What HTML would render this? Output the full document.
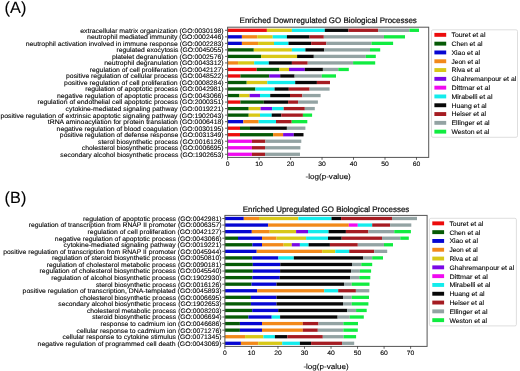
<!DOCTYPE html>
<html><head><meta charset="utf-8"><style>
html,body{margin:0;padding:0;background:#fff;}
svg{display:block;filter:blur(0.3px);}
text{font-family:"Liberation Sans",sans-serif;text-rendering:geometricPrecision;stroke:currentColor;stroke-width:0.1px;}
</style></head><body>
<svg width="520" height="371" viewBox="0 0 520 371">
<rect width="520" height="371" fill="#fff"/>
<rect x="227.60" y="28.65" width="39.30" height="3.30" fill="#ec0c0c"/>
<rect x="266.90" y="28.65" width="25.00" height="3.30" fill="#d8c818"/>
<rect x="291.90" y="28.65" width="32.90" height="3.30" fill="#12ecec"/>
<rect x="324.80" y="28.65" width="23.70" height="3.30" fill="#080808"/>
<rect x="348.50" y="28.65" width="29.60" height="3.30" fill="#a51c22"/>
<rect x="378.10" y="28.65" width="31.30" height="3.30" fill="#93a3a3"/>
<rect x="409.40" y="28.65" width="9.60" height="3.30" fill="#10ec40"/>
<line x1="225.00" y1="30.30" x2="227.60" y2="30.30" stroke="#222" stroke-width="0.7"/>
<text x="223.60" y="32.70" font-size="6.573" text-anchor="end" textLength="143.33" lengthAdjust="spacingAndGlyphs" fill="#000">extracellular matrix organization (GO:0030198)</text>
<rect x="227.60" y="35.18" width="14.30" height="3.30" fill="#0606d2"/>
<rect x="241.90" y="35.18" width="15.40" height="3.30" fill="#f2891a"/>
<rect x="257.30" y="35.18" width="15.40" height="3.30" fill="#d8c818"/>
<rect x="272.70" y="35.18" width="14.20" height="3.30" fill="#12ecec"/>
<rect x="286.90" y="35.18" width="22.70" height="3.30" fill="#080808"/>
<rect x="309.60" y="35.18" width="14.20" height="3.30" fill="#a51c22"/>
<rect x="323.80" y="35.18" width="60.20" height="3.30" fill="#93a3a3"/>
<rect x="384.00" y="35.18" width="21.00" height="3.30" fill="#10ec40"/>
<line x1="225.00" y1="36.83" x2="227.60" y2="36.83" stroke="#222" stroke-width="0.7"/>
<text x="223.60" y="39.23" font-size="6.573" text-anchor="end" textLength="136.54" lengthAdjust="spacingAndGlyphs" fill="#000">neutrophil mediated immunity (GO:0002446)</text>
<rect x="227.60" y="41.70" width="14.30" height="3.30" fill="#0606d2"/>
<rect x="241.90" y="41.70" width="16.20" height="3.30" fill="#f2891a"/>
<rect x="258.10" y="41.70" width="15.90" height="3.30" fill="#d8c818"/>
<rect x="274.00" y="41.70" width="14.50" height="3.30" fill="#12ecec"/>
<rect x="288.50" y="41.70" width="22.70" height="3.30" fill="#080808"/>
<rect x="311.20" y="41.70" width="15.10" height="3.30" fill="#a51c22"/>
<rect x="326.30" y="41.70" width="45.20" height="3.30" fill="#93a3a3"/>
<rect x="371.50" y="41.70" width="21.60" height="3.30" fill="#10ec40"/>
<line x1="225.00" y1="43.35" x2="227.60" y2="43.35" stroke="#222" stroke-width="0.7"/>
<text x="223.60" y="45.75" font-size="6.573" text-anchor="end" textLength="197.89" lengthAdjust="spacingAndGlyphs" fill="#000">neutrophil activation involved in immune response (GO:0002283)</text>
<rect x="227.60" y="48.23" width="26.20" height="3.30" fill="#065a06"/>
<rect x="253.80" y="48.23" width="38.10" height="3.30" fill="#d8c818"/>
<rect x="291.90" y="48.23" width="13.50" height="3.30" fill="#12ecec"/>
<rect x="305.40" y="48.23" width="18.80" height="3.30" fill="#080808"/>
<rect x="324.20" y="48.23" width="45.80" height="3.30" fill="#93a3a3"/>
<rect x="370.00" y="48.23" width="10.20" height="3.30" fill="#10ec40"/>
<line x1="225.00" y1="49.88" x2="227.60" y2="49.88" stroke="#222" stroke-width="0.7"/>
<text x="223.60" y="52.28" font-size="6.573" text-anchor="end" textLength="107.11" lengthAdjust="spacingAndGlyphs" fill="#000">regulated exocytosis (GO:0045055)</text>
<rect x="227.60" y="54.75" width="33.60" height="3.30" fill="#065a06"/>
<rect x="261.20" y="54.75" width="35.90" height="3.30" fill="#d8c818"/>
<rect x="297.10" y="54.75" width="16.70" height="3.30" fill="#080808"/>
<rect x="313.80" y="54.75" width="52.00" height="3.30" fill="#93a3a3"/>
<rect x="365.80" y="54.75" width="10.00" height="3.30" fill="#10ec40"/>
<line x1="225.00" y1="56.40" x2="227.60" y2="56.40" stroke="#222" stroke-width="0.7"/>
<text x="223.60" y="58.80" font-size="6.573" text-anchor="end" textLength="111.68" lengthAdjust="spacingAndGlyphs" fill="#000">platelet degranulation (GO:0002576)</text>
<rect x="227.60" y="61.28" width="10.50" height="3.30" fill="#f2891a"/>
<rect x="238.10" y="61.28" width="16.10" height="3.30" fill="#d8c818"/>
<rect x="254.20" y="61.28" width="14.60" height="3.30" fill="#12ecec"/>
<rect x="268.80" y="61.28" width="23.10" height="3.30" fill="#080808"/>
<rect x="291.90" y="61.28" width="15.80" height="3.30" fill="#a51c22"/>
<rect x="307.70" y="61.28" width="45.40" height="3.30" fill="#93a3a3"/>
<rect x="353.10" y="61.28" width="22.10" height="3.30" fill="#10ec40"/>
<line x1="225.00" y1="62.93" x2="227.60" y2="62.93" stroke="#222" stroke-width="0.7"/>
<text x="223.60" y="65.33" font-size="6.573" text-anchor="end" textLength="119.40" lengthAdjust="spacingAndGlyphs" fill="#000">neutrophil degranulation (GO:0043312)</text>
<rect x="227.60" y="67.81" width="29.10" height="3.30" fill="#ec0c0c"/>
<rect x="256.70" y="67.81" width="22.70" height="3.30" fill="#065a06"/>
<rect x="279.40" y="67.81" width="9.60" height="3.30" fill="#d8c818"/>
<rect x="289.00" y="67.81" width="15.80" height="3.30" fill="#7a08e6"/>
<rect x="304.80" y="67.81" width="18.10" height="3.30" fill="#080808"/>
<rect x="322.90" y="67.81" width="15.40" height="3.30" fill="#93a3a3"/>
<rect x="338.30" y="67.81" width="10.50" height="3.30" fill="#10ec40"/>
<line x1="225.00" y1="69.46" x2="227.60" y2="69.46" stroke="#222" stroke-width="0.7"/>
<text x="223.60" y="71.86" font-size="6.573" text-anchor="end" textLength="133.94" lengthAdjust="spacingAndGlyphs" fill="#000">regulation of cell proliferation (GO:0042127)</text>
<rect x="227.60" y="74.33" width="12.80" height="3.30" fill="#ec0c0c"/>
<rect x="240.40" y="74.33" width="28.80" height="3.30" fill="#065a06"/>
<rect x="269.20" y="74.33" width="11.00" height="3.30" fill="#7a08e6"/>
<rect x="280.20" y="74.33" width="14.40" height="3.30" fill="#080808"/>
<rect x="294.60" y="74.33" width="27.20" height="3.30" fill="#93a3a3"/>
<rect x="321.80" y="74.33" width="14.20" height="3.30" fill="#10ec40"/>
<line x1="225.00" y1="75.98" x2="227.60" y2="75.98" stroke="#222" stroke-width="0.7"/>
<text x="223.60" y="78.38" font-size="6.573" text-anchor="end" textLength="157.54" lengthAdjust="spacingAndGlyphs" fill="#000">positive regulation of cellular process (GO:0048522)</text>
<rect x="227.60" y="80.86" width="19.10" height="3.30" fill="#065a06"/>
<rect x="246.70" y="80.86" width="20.60" height="3.30" fill="#d8c818"/>
<rect x="267.30" y="80.86" width="27.90" height="3.30" fill="#12ecec"/>
<rect x="295.20" y="80.86" width="21.70" height="3.30" fill="#080808"/>
<rect x="316.90" y="80.86" width="13.10" height="3.30" fill="#a51c22"/>
<line x1="225.00" y1="82.51" x2="227.60" y2="82.51" stroke="#222" stroke-width="0.7"/>
<text x="223.60" y="84.91" font-size="6.573" text-anchor="end" textLength="159.46" lengthAdjust="spacingAndGlyphs" fill="#000">positive regulation of cell proliferation (GO:0008284)</text>
<rect x="227.60" y="87.38" width="27.80" height="3.30" fill="#065a06"/>
<rect x="255.40" y="87.38" width="19.20" height="3.30" fill="#12ecec"/>
<rect x="274.60" y="87.38" width="14.20" height="3.30" fill="#080808"/>
<rect x="288.80" y="87.38" width="20.80" height="3.30" fill="#a51c22"/>
<rect x="309.60" y="87.38" width="20.00" height="3.30" fill="#93a3a3"/>
<line x1="225.00" y1="89.03" x2="227.60" y2="89.03" stroke="#222" stroke-width="0.7"/>
<text x="223.60" y="91.43" font-size="6.573" text-anchor="end" textLength="138.40" lengthAdjust="spacingAndGlyphs" fill="#000">regulation of apoptotic process (GO:0042981)</text>
<rect x="227.60" y="93.91" width="11.80" height="3.30" fill="#065a06"/>
<rect x="239.40" y="93.91" width="10.20" height="3.30" fill="#d8c818"/>
<rect x="249.60" y="93.91" width="10.40" height="3.30" fill="#7a08e6"/>
<rect x="260.00" y="93.91" width="10.20" height="3.30" fill="#12ecec"/>
<rect x="270.20" y="93.91" width="19.80" height="3.30" fill="#080808"/>
<rect x="290.00" y="93.91" width="12.30" height="3.30" fill="#a51c22"/>
<rect x="302.30" y="93.91" width="18.30" height="3.30" fill="#93a3a3"/>
<line x1="225.00" y1="95.56" x2="227.60" y2="95.56" stroke="#222" stroke-width="0.7"/>
<text x="223.60" y="97.96" font-size="6.573" text-anchor="end" textLength="166.64" lengthAdjust="spacingAndGlyphs" fill="#000">negative regulation of apoptotic process (GO:0043066)</text>
<rect x="227.60" y="100.44" width="12.80" height="3.30" fill="#ec0c0c"/>
<rect x="240.40" y="100.44" width="23.40" height="3.30" fill="#065a06"/>
<rect x="263.80" y="100.44" width="24.30" height="3.30" fill="#080808"/>
<rect x="288.10" y="100.44" width="10.00" height="3.30" fill="#a51c22"/>
<rect x="298.10" y="100.44" width="19.80" height="3.30" fill="#93a3a3"/>
<line x1="225.00" y1="102.09" x2="227.60" y2="102.09" stroke="#222" stroke-width="0.7"/>
<text x="223.60" y="104.49" font-size="6.573" text-anchor="end" textLength="186.20" lengthAdjust="spacingAndGlyphs" fill="#000">regulation of endothelial cell apoptotic process (GO:2000351)</text>
<rect x="227.60" y="106.96" width="21.10" height="3.30" fill="#065a06"/>
<rect x="248.70" y="106.96" width="11.90" height="3.30" fill="#d8c818"/>
<rect x="260.60" y="106.96" width="11.50" height="3.30" fill="#7a08e6"/>
<rect x="272.10" y="106.96" width="11.60" height="3.30" fill="#12ecec"/>
<rect x="283.70" y="106.96" width="21.10" height="3.30" fill="#a51c22"/>
<rect x="304.80" y="106.96" width="10.00" height="3.30" fill="#93a3a3"/>
<line x1="225.00" y1="108.61" x2="227.60" y2="108.61" stroke="#222" stroke-width="0.7"/>
<text x="223.60" y="111.01" font-size="6.573" text-anchor="end" textLength="157.96" lengthAdjust="spacingAndGlyphs" fill="#000">cytokine-mediated signaling pathway (GO:0019221)</text>
<rect x="227.60" y="113.49" width="21.10" height="3.30" fill="#065a06"/>
<rect x="248.70" y="113.49" width="11.30" height="3.30" fill="#d8c818"/>
<rect x="260.00" y="113.49" width="11.70" height="3.30" fill="#12ecec"/>
<rect x="271.70" y="113.49" width="9.60" height="3.30" fill="#080808"/>
<rect x="281.30" y="113.49" width="21.60" height="3.30" fill="#a51c22"/>
<rect x="302.90" y="113.49" width="9.20" height="3.30" fill="#10ec40"/>
<line x1="225.00" y1="115.14" x2="227.60" y2="115.14" stroke="#222" stroke-width="0.7"/>
<text x="223.60" y="117.54" font-size="6.573" text-anchor="end" textLength="223.20" lengthAdjust="spacingAndGlyphs" fill="#000">positive regulation of extrinsic apoptotic signaling pathway (GO:1902043)</text>
<rect x="227.60" y="120.01" width="15.70" height="3.30" fill="#0606d2"/>
<rect x="243.30" y="120.01" width="15.40" height="3.30" fill="#f2891a"/>
<rect x="258.70" y="120.01" width="17.30" height="3.30" fill="#12ecec"/>
<rect x="276.00" y="120.01" width="15.70" height="3.30" fill="#a51c22"/>
<rect x="291.70" y="120.01" width="15.60" height="3.30" fill="#10ec40"/>
<line x1="225.00" y1="121.66" x2="227.60" y2="121.66" stroke="#222" stroke-width="0.7"/>
<text x="223.60" y="124.06" font-size="6.573" text-anchor="end" textLength="175.79" lengthAdjust="spacingAndGlyphs" fill="#000">tRNA aminoacylation for protein translation (GO:0006418)</text>
<rect x="227.60" y="126.54" width="12.40" height="3.30" fill="#ec0c0c"/>
<rect x="240.00" y="126.54" width="10.00" height="3.30" fill="#065a06"/>
<rect x="250.00" y="126.54" width="36.90" height="3.30" fill="#080808"/>
<rect x="286.90" y="126.54" width="18.50" height="3.30" fill="#93a3a3"/>
<line x1="225.00" y1="128.19" x2="227.60" y2="128.19" stroke="#222" stroke-width="0.7"/>
<text x="223.60" y="130.59" font-size="6.573" text-anchor="end" textLength="167.00" lengthAdjust="spacingAndGlyphs" fill="#000">negative regulation of blood coagulation (GO:0030195)</text>
<rect x="227.60" y="133.07" width="12.40" height="3.30" fill="#ec0c0c"/>
<rect x="240.00" y="133.07" width="33.10" height="3.30" fill="#065a06"/>
<rect x="273.10" y="133.07" width="10.00" height="3.30" fill="#f2891a"/>
<rect x="283.10" y="133.07" width="10.70" height="3.30" fill="#7a08e6"/>
<rect x="293.80" y="133.07" width="9.70" height="3.30" fill="#080808"/>
<line x1="225.00" y1="134.72" x2="227.60" y2="134.72" stroke="#222" stroke-width="0.7"/>
<text x="223.60" y="137.12" font-size="6.573" text-anchor="end" textLength="163.74" lengthAdjust="spacingAndGlyphs" fill="#000">positive regulation of defense response (GO:0031349)</text>
<rect x="227.60" y="139.59" width="24.30" height="3.30" fill="#f00af0"/>
<rect x="251.90" y="139.59" width="13.50" height="3.30" fill="#a51c22"/>
<rect x="265.40" y="139.59" width="35.90" height="3.30" fill="#93a3a3"/>
<line x1="225.00" y1="141.24" x2="227.60" y2="141.24" stroke="#222" stroke-width="0.7"/>
<text x="223.60" y="143.64" font-size="6.573" text-anchor="end" textLength="125.52" lengthAdjust="spacingAndGlyphs" fill="#000">sterol biosynthetic process (GO:0016126)</text>
<rect x="227.60" y="146.12" width="24.30" height="3.30" fill="#f00af0"/>
<rect x="251.90" y="146.12" width="13.10" height="3.30" fill="#a51c22"/>
<rect x="265.00" y="146.12" width="35.40" height="3.30" fill="#93a3a3"/>
<line x1="225.00" y1="147.77" x2="227.60" y2="147.77" stroke="#222" stroke-width="0.7"/>
<text x="223.60" y="150.17" font-size="6.573" text-anchor="end" textLength="141.71" lengthAdjust="spacingAndGlyphs" fill="#000">cholesterol biosynthetic process (GO:0006695)</text>
<rect x="227.60" y="152.64" width="24.30" height="3.30" fill="#f00af0"/>
<rect x="251.90" y="152.64" width="13.10" height="3.30" fill="#a51c22"/>
<rect x="265.00" y="152.64" width="35.00" height="3.30" fill="#93a3a3"/>
<line x1="225.00" y1="154.29" x2="227.60" y2="154.29" stroke="#222" stroke-width="0.7"/>
<text x="223.60" y="156.69" font-size="6.573" text-anchor="end" textLength="163.26" lengthAdjust="spacingAndGlyphs" fill="#000">secondary alcohol biosynthetic process (GO:1902653)</text>
<rect x="227.60" y="27.20" width="201.10" height="130.20" fill="none" stroke="#555" stroke-width="1.0"/>
<line x1="227.60" y1="157.40" x2="227.60" y2="159.80" stroke="#222" stroke-width="0.7"/>
<text x="227.60" y="166.00" font-size="6.339" text-anchor="middle" textLength="3.80" lengthAdjust="spacingAndGlyphs" fill="#000">0</text>
<line x1="259.08" y1="157.40" x2="259.08" y2="159.80" stroke="#222" stroke-width="0.7"/>
<text x="259.08" y="166.00" font-size="6.339" text-anchor="middle" textLength="7.61" lengthAdjust="spacingAndGlyphs" fill="#000">10</text>
<line x1="290.56" y1="157.40" x2="290.56" y2="159.80" stroke="#222" stroke-width="0.7"/>
<text x="290.56" y="166.00" font-size="6.339" text-anchor="middle" textLength="7.61" lengthAdjust="spacingAndGlyphs" fill="#000">20</text>
<line x1="322.04" y1="157.40" x2="322.04" y2="159.80" stroke="#222" stroke-width="0.7"/>
<text x="322.04" y="166.00" font-size="6.339" text-anchor="middle" textLength="7.61" lengthAdjust="spacingAndGlyphs" fill="#000">30</text>
<line x1="353.52" y1="157.40" x2="353.52" y2="159.80" stroke="#222" stroke-width="0.7"/>
<text x="353.52" y="166.00" font-size="6.339" text-anchor="middle" textLength="7.61" lengthAdjust="spacingAndGlyphs" fill="#000">40</text>
<line x1="385.00" y1="157.40" x2="385.00" y2="159.80" stroke="#222" stroke-width="0.7"/>
<text x="385.00" y="166.00" font-size="6.339" text-anchor="middle" textLength="7.61" lengthAdjust="spacingAndGlyphs" fill="#000">50</text>
<line x1="416.48" y1="157.40" x2="416.48" y2="159.80" stroke="#222" stroke-width="0.7"/>
<text x="416.48" y="166.00" font-size="6.339" text-anchor="middle" textLength="7.61" lengthAdjust="spacingAndGlyphs" fill="#000">60</text>
<text x="328.20" y="23.30" font-size="8.014" text-anchor="middle" textLength="177.18" lengthAdjust="spacingAndGlyphs" fill="#1a1a1a" style="stroke-width:0.22px">Enriched Downregulated GO Biological Processes</text>
<text x="328.20" y="179.40" font-size="7.526" text-anchor="middle" textLength="45.20" lengthAdjust="spacingAndGlyphs" fill="#000">-log(p-value)</text>
<text x="4.6" y="12.6" font-size="16.3" fill="#000">(A)</text>
<rect x="431.50" y="29.80" width="86.00" height="107.50" rx="1.5" fill="#fff" fill-opacity="0.8" stroke="#d6d6d6" stroke-width="0.8"/>
<rect x="434.40" y="32.90" width="11.8" height="3.9" fill="#ec0c0c"/>
<text x="451.50" y="37.20" font-size="6.413" text-anchor="start" textLength="33.98" lengthAdjust="spacingAndGlyphs" fill="#000">Touret et al</text>
<rect x="434.40" y="41.70" width="11.8" height="3.9" fill="#065a06"/>
<text x="451.50" y="46.00" font-size="6.413" text-anchor="start" textLength="30.94" lengthAdjust="spacingAndGlyphs" fill="#000">Chen et al</text>
<rect x="434.40" y="50.50" width="11.8" height="3.9" fill="#0606d2"/>
<text x="451.50" y="54.80" font-size="6.413" text-anchor="start" textLength="28.56" lengthAdjust="spacingAndGlyphs" fill="#000">Xiao et al</text>
<rect x="434.40" y="59.30" width="11.8" height="3.9" fill="#f2891a"/>
<text x="451.50" y="63.60" font-size="6.413" text-anchor="start" textLength="28.37" lengthAdjust="spacingAndGlyphs" fill="#000">Jeon et al</text>
<rect x="434.40" y="68.10" width="11.8" height="3.9" fill="#d8c818"/>
<text x="451.50" y="72.40" font-size="6.413" text-anchor="start" textLength="28.50" lengthAdjust="spacingAndGlyphs" fill="#000">Riva et al</text>
<rect x="434.40" y="76.90" width="11.8" height="3.9" fill="#7a08e6"/>
<text x="451.50" y="81.20" font-size="6.413" text-anchor="start" textLength="64.77" lengthAdjust="spacingAndGlyphs" fill="#000">Ghahremanpour et al</text>
<rect x="434.40" y="85.70" width="11.8" height="3.9" fill="#f00af0"/>
<text x="451.50" y="90.00" font-size="6.413" text-anchor="start" textLength="38.50" lengthAdjust="spacingAndGlyphs" fill="#000">Dittmar et al</text>
<rect x="434.40" y="94.50" width="11.8" height="3.9" fill="#12ecec"/>
<text x="451.50" y="98.80" font-size="6.413" text-anchor="start" textLength="41.03" lengthAdjust="spacingAndGlyphs" fill="#000">Mirabelli et al</text>
<rect x="434.40" y="103.30" width="11.8" height="3.9" fill="#080808"/>
<text x="451.50" y="107.60" font-size="6.413" text-anchor="start" textLength="35.09" lengthAdjust="spacingAndGlyphs" fill="#000">Huang et al</text>
<rect x="434.40" y="112.10" width="11.8" height="3.9" fill="#a51c22"/>
<text x="451.50" y="116.40" font-size="6.413" text-anchor="start" textLength="34.64" lengthAdjust="spacingAndGlyphs" fill="#000">Heiser et al</text>
<rect x="434.40" y="120.90" width="11.8" height="3.9" fill="#93a3a3"/>
<text x="451.50" y="125.20" font-size="6.413" text-anchor="start" textLength="38.08" lengthAdjust="spacingAndGlyphs" fill="#000">Ellinger et al</text>
<rect x="434.40" y="129.70" width="11.8" height="3.9" fill="#10ec40"/>
<text x="451.50" y="134.00" font-size="6.413" text-anchor="start" textLength="37.74" lengthAdjust="spacingAndGlyphs" fill="#000">Weston et al</text>
<rect x="224.90" y="216.85" width="18.90" height="3.30" fill="#0606d2"/>
<rect x="243.80" y="216.85" width="15.20" height="3.30" fill="#f2891a"/>
<rect x="259.00" y="216.85" width="39.40" height="3.30" fill="#d8c818"/>
<rect x="298.40" y="216.85" width="33.10" height="3.30" fill="#12ecec"/>
<rect x="331.50" y="216.85" width="9.60" height="3.30" fill="#080808"/>
<rect x="341.10" y="216.85" width="50.90" height="3.30" fill="#a51c22"/>
<rect x="392.00" y="216.85" width="25.00" height="3.30" fill="#93a3a3"/>
<line x1="222.30" y1="218.50" x2="224.90" y2="218.50" stroke="#222" stroke-width="0.7"/>
<text x="221.50" y="220.90" font-size="6.573" text-anchor="end" textLength="138.40" lengthAdjust="spacingAndGlyphs" fill="#000">regulation of apoptotic process (GO:0042981)</text>
<rect x="224.90" y="223.42" width="43.30" height="3.30" fill="#0606d2"/>
<rect x="268.20" y="223.42" width="80.60" height="3.30" fill="#f2891a"/>
<rect x="348.80" y="223.42" width="9.00" height="3.30" fill="#f00af0"/>
<rect x="357.80" y="223.42" width="14.40" height="3.30" fill="#12ecec"/>
<rect x="372.20" y="223.42" width="17.90" height="3.30" fill="#a51c22"/>
<rect x="390.10" y="223.42" width="21.20" height="3.30" fill="#93a3a3"/>
<line x1="222.30" y1="225.07" x2="224.90" y2="225.07" stroke="#222" stroke-width="0.7"/>
<text x="221.50" y="227.47" font-size="6.573" text-anchor="end" textLength="192.82" lengthAdjust="spacingAndGlyphs" fill="#000">regulation of transcription from RNAP II promoter (GO:0006357)</text>
<rect x="224.90" y="229.99" width="26.90" height="3.30" fill="#0606d2"/>
<rect x="251.80" y="229.99" width="17.90" height="3.30" fill="#f2891a"/>
<rect x="269.70" y="229.99" width="26.40" height="3.30" fill="#d8c818"/>
<rect x="296.10" y="229.99" width="11.90" height="3.30" fill="#7a08e6"/>
<rect x="308.00" y="229.99" width="20.60" height="3.30" fill="#12ecec"/>
<rect x="328.60" y="229.99" width="17.30" height="3.30" fill="#080808"/>
<rect x="345.90" y="229.99" width="22.50" height="3.30" fill="#a51c22"/>
<rect x="368.40" y="229.99" width="25.90" height="3.30" fill="#93a3a3"/>
<rect x="394.30" y="229.99" width="16.60" height="3.30" fill="#10ec40"/>
<line x1="222.30" y1="231.64" x2="224.90" y2="231.64" stroke="#222" stroke-width="0.7"/>
<text x="221.50" y="234.04" font-size="6.573" text-anchor="end" textLength="133.94" lengthAdjust="spacingAndGlyphs" fill="#000">regulation of cell proliferation (GO:0042127)</text>
<rect x="224.90" y="236.55" width="13.10" height="3.30" fill="#065a06"/>
<rect x="238.00" y="236.55" width="24.00" height="3.30" fill="#0606d2"/>
<rect x="262.00" y="236.55" width="14.50" height="3.30" fill="#f2891a"/>
<rect x="276.50" y="236.55" width="29.60" height="3.30" fill="#d8c818"/>
<rect x="306.10" y="236.55" width="21.90" height="3.30" fill="#12ecec"/>
<rect x="328.00" y="236.55" width="13.70" height="3.30" fill="#080808"/>
<rect x="341.70" y="236.55" width="40.30" height="3.30" fill="#a51c22"/>
<rect x="382.00" y="236.55" width="18.30" height="3.30" fill="#93a3a3"/>
<rect x="400.30" y="236.55" width="8.50" height="3.30" fill="#10ec40"/>
<line x1="222.30" y1="238.20" x2="224.90" y2="238.20" stroke="#222" stroke-width="0.7"/>
<text x="221.50" y="240.60" font-size="6.573" text-anchor="end" textLength="166.64" lengthAdjust="spacingAndGlyphs" fill="#000">negative regulation of apoptotic process (GO:0043066)</text>
<rect x="224.90" y="243.12" width="27.50" height="3.30" fill="#065a06"/>
<rect x="252.40" y="243.12" width="9.60" height="3.30" fill="#0606d2"/>
<rect x="262.00" y="243.12" width="21.60" height="3.30" fill="#f2891a"/>
<rect x="283.60" y="243.12" width="8.20" height="3.30" fill="#d8c818"/>
<rect x="291.80" y="243.12" width="8.10" height="3.30" fill="#7a08e6"/>
<rect x="299.90" y="243.12" width="8.70" height="3.30" fill="#12ecec"/>
<rect x="308.60" y="243.12" width="21.30" height="3.30" fill="#080808"/>
<rect x="329.90" y="243.12" width="27.90" height="3.30" fill="#a51c22"/>
<rect x="357.80" y="243.12" width="26.20" height="3.30" fill="#93a3a3"/>
<rect x="384.00" y="243.12" width="9.00" height="3.30" fill="#10ec40"/>
<line x1="222.30" y1="244.77" x2="224.90" y2="244.77" stroke="#222" stroke-width="0.7"/>
<text x="221.50" y="247.17" font-size="6.573" text-anchor="end" textLength="157.96" lengthAdjust="spacingAndGlyphs" fill="#000">cytokine-mediated signaling pathway (GO:0019221)</text>
<rect x="224.90" y="249.69" width="31.80" height="3.30" fill="#0606d2"/>
<rect x="256.70" y="249.69" width="65.50" height="3.30" fill="#f2891a"/>
<rect x="322.20" y="249.69" width="13.10" height="3.30" fill="#d8c818"/>
<rect x="335.30" y="249.69" width="13.90" height="3.30" fill="#12ecec"/>
<rect x="349.20" y="249.69" width="25.00" height="3.30" fill="#a51c22"/>
<rect x="374.20" y="249.69" width="13.00" height="3.30" fill="#93a3a3"/>
<line x1="222.30" y1="251.34" x2="224.90" y2="251.34" stroke="#222" stroke-width="0.7"/>
<text x="221.50" y="253.74" font-size="6.573" text-anchor="end" textLength="218.35" lengthAdjust="spacingAndGlyphs" fill="#000">positive regulation of transcription from RNAP II promoter (GO:0045944)</text>
<rect x="224.90" y="256.26" width="27.30" height="3.30" fill="#065a06"/>
<rect x="252.20" y="256.26" width="26.20" height="3.30" fill="#0606d2"/>
<rect x="278.40" y="256.26" width="15.40" height="3.30" fill="#12ecec"/>
<rect x="293.80" y="256.26" width="69.40" height="3.30" fill="#080808"/>
<rect x="363.20" y="256.26" width="9.00" height="3.30" fill="#93a3a3"/>
<rect x="372.20" y="256.26" width="10.80" height="3.30" fill="#10ec40"/>
<line x1="222.30" y1="257.91" x2="224.90" y2="257.91" stroke="#222" stroke-width="0.7"/>
<text x="221.50" y="260.31" font-size="6.573" text-anchor="end" textLength="169.55" lengthAdjust="spacingAndGlyphs" fill="#000">regulation of steroid biosynthetic process (GO:0050810)</text>
<rect x="224.90" y="262.83" width="27.90" height="3.30" fill="#065a06"/>
<rect x="252.80" y="262.83" width="27.50" height="3.30" fill="#0606d2"/>
<rect x="280.30" y="262.83" width="71.70" height="3.30" fill="#080808"/>
<rect x="352.00" y="262.83" width="9.30" height="3.30" fill="#93a3a3"/>
<rect x="361.30" y="262.83" width="10.90" height="3.30" fill="#10ec40"/>
<line x1="222.30" y1="264.48" x2="224.90" y2="264.48" stroke="#222" stroke-width="0.7"/>
<text x="221.50" y="266.88" font-size="6.573" text-anchor="end" textLength="174.77" lengthAdjust="spacingAndGlyphs" fill="#000">regulation of cholesterol metabolic process (GO:0090181)</text>
<rect x="224.90" y="269.39" width="27.90" height="3.30" fill="#065a06"/>
<rect x="252.80" y="269.39" width="27.30" height="3.30" fill="#0606d2"/>
<rect x="280.10" y="269.39" width="71.00" height="3.30" fill="#080808"/>
<rect x="351.10" y="269.39" width="8.80" height="3.30" fill="#93a3a3"/>
<rect x="359.90" y="269.39" width="11.20" height="3.30" fill="#10ec40"/>
<line x1="222.30" y1="271.04" x2="224.90" y2="271.04" stroke="#222" stroke-width="0.7"/>
<text x="221.50" y="273.44" font-size="6.573" text-anchor="end" textLength="181.91" lengthAdjust="spacingAndGlyphs" fill="#000">regulation of cholesterol biosynthetic process (GO:0045540)</text>
<rect x="224.90" y="275.96" width="27.50" height="3.30" fill="#065a06"/>
<rect x="252.40" y="275.96" width="27.30" height="3.30" fill="#0606d2"/>
<rect x="279.70" y="275.96" width="70.40" height="3.30" fill="#080808"/>
<rect x="350.10" y="275.96" width="9.20" height="3.30" fill="#93a3a3"/>
<rect x="359.30" y="275.96" width="11.00" height="3.30" fill="#10ec40"/>
<line x1="222.30" y1="277.61" x2="224.90" y2="277.61" stroke="#222" stroke-width="0.7"/>
<text x="221.50" y="280.01" font-size="6.573" text-anchor="end" textLength="170.35" lengthAdjust="spacingAndGlyphs" fill="#000">regulation of alcohol biosynthetic process (GO:1902930)</text>
<rect x="224.90" y="282.53" width="26.60" height="3.30" fill="#065a06"/>
<rect x="251.50" y="282.53" width="25.00" height="3.30" fill="#0606d2"/>
<rect x="276.50" y="282.53" width="67.50" height="3.30" fill="#080808"/>
<rect x="344.00" y="282.53" width="7.70" height="3.30" fill="#93a3a3"/>
<rect x="351.70" y="282.53" width="17.80" height="3.30" fill="#10ec40"/>
<line x1="222.30" y1="284.18" x2="224.90" y2="284.18" stroke="#222" stroke-width="0.7"/>
<text x="221.50" y="286.58" font-size="6.573" text-anchor="end" textLength="125.52" lengthAdjust="spacingAndGlyphs" fill="#000">sterol biosynthetic process (GO:0016126)</text>
<rect x="224.90" y="289.10" width="32.30" height="3.30" fill="#0606d2"/>
<rect x="257.20" y="289.10" width="67.00" height="3.30" fill="#f2891a"/>
<rect x="324.20" y="289.10" width="14.00" height="3.30" fill="#12ecec"/>
<rect x="338.20" y="289.10" width="17.70" height="3.30" fill="#a51c22"/>
<rect x="355.90" y="289.10" width="13.40" height="3.30" fill="#93a3a3"/>
<line x1="222.30" y1="290.75" x2="224.90" y2="290.75" stroke="#222" stroke-width="0.7"/>
<text x="221.50" y="293.15" font-size="6.573" text-anchor="end" textLength="198.89" lengthAdjust="spacingAndGlyphs" fill="#000">positive regulation of transcription, DNA-templated (GO:0045893)</text>
<rect x="224.90" y="295.67" width="26.00" height="3.30" fill="#065a06"/>
<rect x="250.90" y="295.67" width="25.60" height="3.30" fill="#0606d2"/>
<rect x="276.50" y="295.67" width="66.50" height="3.30" fill="#080808"/>
<rect x="343.00" y="295.67" width="8.70" height="3.30" fill="#93a3a3"/>
<rect x="351.70" y="295.67" width="17.30" height="3.30" fill="#10ec40"/>
<line x1="222.30" y1="297.32" x2="224.90" y2="297.32" stroke="#222" stroke-width="0.7"/>
<text x="221.50" y="299.72" font-size="6.573" text-anchor="end" textLength="141.71" lengthAdjust="spacingAndGlyphs" fill="#000">cholesterol biosynthetic process (GO:0006695)</text>
<rect x="224.90" y="302.23" width="26.00" height="3.30" fill="#065a06"/>
<rect x="250.90" y="302.23" width="25.60" height="3.30" fill="#0606d2"/>
<rect x="276.50" y="302.23" width="66.50" height="3.30" fill="#080808"/>
<rect x="343.00" y="302.23" width="8.70" height="3.30" fill="#93a3a3"/>
<rect x="351.70" y="302.23" width="16.70" height="3.30" fill="#10ec40"/>
<line x1="222.30" y1="303.88" x2="224.90" y2="303.88" stroke="#222" stroke-width="0.7"/>
<text x="221.50" y="306.28" font-size="6.573" text-anchor="end" textLength="163.26" lengthAdjust="spacingAndGlyphs" fill="#000">secondary alcohol biosynthetic process (GO:1902653)</text>
<rect x="224.90" y="308.80" width="27.30" height="3.30" fill="#065a06"/>
<rect x="252.20" y="308.80" width="26.00" height="3.30" fill="#0606d2"/>
<rect x="278.20" y="308.80" width="69.00" height="3.30" fill="#080808"/>
<rect x="347.20" y="308.80" width="8.90" height="3.30" fill="#93a3a3"/>
<rect x="356.10" y="308.80" width="10.60" height="3.30" fill="#10ec40"/>
<line x1="222.30" y1="310.45" x2="224.90" y2="310.45" stroke="#222" stroke-width="0.7"/>
<text x="221.50" y="312.85" font-size="6.573" text-anchor="end" textLength="134.57" lengthAdjust="spacingAndGlyphs" fill="#000">cholesterol metabolic process (GO:0008203)</text>
<rect x="224.90" y="315.37" width="23.50" height="3.30" fill="#065a06"/>
<rect x="248.40" y="315.37" width="23.30" height="3.30" fill="#0606d2"/>
<rect x="271.70" y="315.37" width="8.40" height="3.30" fill="#12ecec"/>
<rect x="280.10" y="315.37" width="57.50" height="3.30" fill="#080808"/>
<rect x="337.60" y="315.37" width="12.10" height="3.30" fill="#93a3a3"/>
<rect x="349.70" y="315.37" width="14.10" height="3.30" fill="#10ec40"/>
<line x1="222.30" y1="317.02" x2="224.90" y2="317.02" stroke="#222" stroke-width="0.7"/>
<text x="221.50" y="319.42" font-size="6.573" text-anchor="end" textLength="129.34" lengthAdjust="spacingAndGlyphs" fill="#000">steroid biosynthetic process (GO:0006694)</text>
<rect x="224.90" y="321.94" width="15.00" height="3.30" fill="#065a06"/>
<rect x="239.90" y="321.94" width="22.10" height="3.30" fill="#0606d2"/>
<rect x="262.00" y="321.94" width="40.80" height="3.30" fill="#f2891a"/>
<rect x="302.80" y="321.94" width="15.70" height="3.30" fill="#a51c22"/>
<rect x="318.50" y="321.94" width="24.90" height="3.30" fill="#93a3a3"/>
<rect x="343.40" y="321.94" width="14.60" height="3.30" fill="#10ec40"/>
<line x1="222.30" y1="323.59" x2="224.90" y2="323.59" stroke="#222" stroke-width="0.7"/>
<text x="221.50" y="325.99" font-size="6.573" text-anchor="end" textLength="121.08" lengthAdjust="spacingAndGlyphs" fill="#000">response to cadmium ion (GO:0046686)</text>
<rect x="224.90" y="328.51" width="15.00" height="3.30" fill="#065a06"/>
<rect x="239.90" y="328.51" width="22.10" height="3.30" fill="#0606d2"/>
<rect x="262.00" y="328.51" width="40.80" height="3.30" fill="#f2891a"/>
<rect x="302.80" y="328.51" width="15.00" height="3.30" fill="#a51c22"/>
<rect x="317.80" y="328.51" width="25.60" height="3.30" fill="#93a3a3"/>
<rect x="343.40" y="328.51" width="14.40" height="3.30" fill="#10ec40"/>
<line x1="222.30" y1="330.16" x2="224.90" y2="330.16" stroke="#222" stroke-width="0.7"/>
<text x="221.50" y="332.56" font-size="6.573" text-anchor="end" textLength="145.01" lengthAdjust="spacingAndGlyphs" fill="#000">cellular response to cadmium ion (GO:0071276)</text>
<rect x="224.90" y="335.07" width="20.20" height="3.30" fill="#f2891a"/>
<rect x="245.10" y="335.07" width="18.30" height="3.30" fill="#d8c818"/>
<rect x="263.40" y="335.07" width="11.50" height="3.30" fill="#12ecec"/>
<rect x="274.90" y="335.07" width="12.50" height="3.30" fill="#080808"/>
<rect x="287.40" y="335.07" width="35.40" height="3.30" fill="#a51c22"/>
<rect x="322.80" y="335.07" width="20.80" height="3.30" fill="#93a3a3"/>
<rect x="343.60" y="335.07" width="12.50" height="3.30" fill="#10ec40"/>
<line x1="222.30" y1="336.72" x2="224.90" y2="336.72" stroke="#222" stroke-width="0.7"/>
<text x="221.50" y="339.12" font-size="6.573" text-anchor="end" textLength="158.87" lengthAdjust="spacingAndGlyphs" fill="#000">cellular response to cytokine stimulus (GO:0071345)</text>
<rect x="224.90" y="341.64" width="16.00" height="3.30" fill="#0606d2"/>
<rect x="240.90" y="341.64" width="17.30" height="3.30" fill="#f2891a"/>
<rect x="258.20" y="341.64" width="24.00" height="3.30" fill="#d8c818"/>
<rect x="282.20" y="341.64" width="17.70" height="3.30" fill="#12ecec"/>
<rect x="299.90" y="341.64" width="11.20" height="3.30" fill="#080808"/>
<rect x="311.10" y="341.64" width="30.90" height="3.30" fill="#a51c22"/>
<rect x="342.00" y="341.64" width="12.20" height="3.30" fill="#93a3a3"/>
<line x1="222.30" y1="343.29" x2="224.90" y2="343.29" stroke="#222" stroke-width="0.7"/>
<text x="221.50" y="345.69" font-size="6.573" text-anchor="end" textLength="183.86" lengthAdjust="spacingAndGlyphs" fill="#000">negative regulation of programmed cell death (GO:0043069)</text>
<rect x="224.90" y="215.40" width="202.20" height="131.00" fill="none" stroke="#555" stroke-width="1.0"/>
<line x1="224.90" y1="346.40" x2="224.90" y2="348.80" stroke="#222" stroke-width="0.7"/>
<text x="224.90" y="355.00" font-size="6.339" text-anchor="middle" textLength="3.80" lengthAdjust="spacingAndGlyphs" fill="#000">0</text>
<line x1="251.43" y1="346.40" x2="251.43" y2="348.80" stroke="#222" stroke-width="0.7"/>
<text x="251.43" y="355.00" font-size="6.339" text-anchor="middle" textLength="7.61" lengthAdjust="spacingAndGlyphs" fill="#000">10</text>
<line x1="277.96" y1="346.40" x2="277.96" y2="348.80" stroke="#222" stroke-width="0.7"/>
<text x="277.96" y="355.00" font-size="6.339" text-anchor="middle" textLength="7.61" lengthAdjust="spacingAndGlyphs" fill="#000">20</text>
<line x1="304.49" y1="346.40" x2="304.49" y2="348.80" stroke="#222" stroke-width="0.7"/>
<text x="304.49" y="355.00" font-size="6.339" text-anchor="middle" textLength="7.61" lengthAdjust="spacingAndGlyphs" fill="#000">30</text>
<line x1="331.02" y1="346.40" x2="331.02" y2="348.80" stroke="#222" stroke-width="0.7"/>
<text x="331.02" y="355.00" font-size="6.339" text-anchor="middle" textLength="7.61" lengthAdjust="spacingAndGlyphs" fill="#000">40</text>
<line x1="357.55" y1="346.40" x2="357.55" y2="348.80" stroke="#222" stroke-width="0.7"/>
<text x="357.55" y="355.00" font-size="6.339" text-anchor="middle" textLength="7.61" lengthAdjust="spacingAndGlyphs" fill="#000">50</text>
<line x1="384.08" y1="346.40" x2="384.08" y2="348.80" stroke="#222" stroke-width="0.7"/>
<text x="384.08" y="355.00" font-size="6.339" text-anchor="middle" textLength="7.61" lengthAdjust="spacingAndGlyphs" fill="#000">60</text>
<line x1="410.61" y1="346.40" x2="410.61" y2="348.80" stroke="#222" stroke-width="0.7"/>
<text x="410.61" y="355.00" font-size="6.339" text-anchor="middle" textLength="7.61" lengthAdjust="spacingAndGlyphs" fill="#000">70</text>
<text x="326.00" y="211.50" font-size="8.014" text-anchor="middle" textLength="166.62" lengthAdjust="spacingAndGlyphs" fill="#1a1a1a" style="stroke-width:0.22px">Enriched Upregulated GO Biological Processes</text>
<text x="326.00" y="368.50" font-size="7.526" text-anchor="middle" textLength="45.20" lengthAdjust="spacingAndGlyphs" fill="#000">-log(p-value)</text>
<text x="4.6" y="202.6" font-size="16.3" fill="#000">(B)</text>
<rect x="429.40" y="218.30" width="87.00" height="107.60" rx="1.5" fill="#fff" fill-opacity="0.8" stroke="#d6d6d6" stroke-width="0.8"/>
<rect x="432.30" y="221.40" width="11.8" height="3.9" fill="#ec0c0c"/>
<text x="449.40" y="225.70" font-size="6.413" text-anchor="start" textLength="33.98" lengthAdjust="spacingAndGlyphs" fill="#000">Touret et al</text>
<rect x="432.30" y="230.20" width="11.8" height="3.9" fill="#065a06"/>
<text x="449.40" y="234.50" font-size="6.413" text-anchor="start" textLength="30.94" lengthAdjust="spacingAndGlyphs" fill="#000">Chen et al</text>
<rect x="432.30" y="239.00" width="11.8" height="3.9" fill="#0606d2"/>
<text x="449.40" y="243.30" font-size="6.413" text-anchor="start" textLength="28.56" lengthAdjust="spacingAndGlyphs" fill="#000">Xiao et al</text>
<rect x="432.30" y="247.80" width="11.8" height="3.9" fill="#f2891a"/>
<text x="449.40" y="252.10" font-size="6.413" text-anchor="start" textLength="28.37" lengthAdjust="spacingAndGlyphs" fill="#000">Jeon et al</text>
<rect x="432.30" y="256.60" width="11.8" height="3.9" fill="#d8c818"/>
<text x="449.40" y="260.90" font-size="6.413" text-anchor="start" textLength="28.50" lengthAdjust="spacingAndGlyphs" fill="#000">Riva et al</text>
<rect x="432.30" y="265.40" width="11.8" height="3.9" fill="#7a08e6"/>
<text x="449.40" y="269.70" font-size="6.413" text-anchor="start" textLength="64.77" lengthAdjust="spacingAndGlyphs" fill="#000">Ghahremanpour et al</text>
<rect x="432.30" y="274.20" width="11.8" height="3.9" fill="#f00af0"/>
<text x="449.40" y="278.50" font-size="6.413" text-anchor="start" textLength="38.50" lengthAdjust="spacingAndGlyphs" fill="#000">Dittmar et al</text>
<rect x="432.30" y="283.00" width="11.8" height="3.9" fill="#12ecec"/>
<text x="449.40" y="287.30" font-size="6.413" text-anchor="start" textLength="41.03" lengthAdjust="spacingAndGlyphs" fill="#000">Mirabelli et al</text>
<rect x="432.30" y="291.80" width="11.8" height="3.9" fill="#080808"/>
<text x="449.40" y="296.10" font-size="6.413" text-anchor="start" textLength="35.09" lengthAdjust="spacingAndGlyphs" fill="#000">Huang et al</text>
<rect x="432.30" y="300.60" width="11.8" height="3.9" fill="#a51c22"/>
<text x="449.40" y="304.90" font-size="6.413" text-anchor="start" textLength="34.64" lengthAdjust="spacingAndGlyphs" fill="#000">Heiser et al</text>
<rect x="432.30" y="309.40" width="11.8" height="3.9" fill="#93a3a3"/>
<text x="449.40" y="313.70" font-size="6.413" text-anchor="start" textLength="38.08" lengthAdjust="spacingAndGlyphs" fill="#000">Ellinger et al</text>
<rect x="432.30" y="318.20" width="11.8" height="3.9" fill="#10ec40"/>
<text x="449.40" y="322.50" font-size="6.413" text-anchor="start" textLength="37.74" lengthAdjust="spacingAndGlyphs" fill="#000">Weston et al</text>
</svg>
</body></html>
